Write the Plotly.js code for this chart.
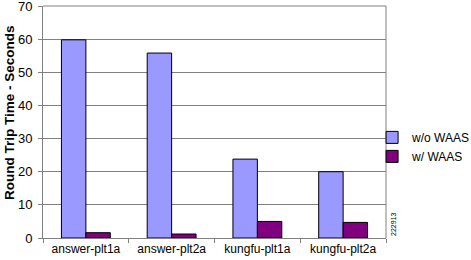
<!DOCTYPE html>
<html><head><meta charset="utf-8">
<script src="https://cdn.plot.ly/plotly-3.0.1.min.js"></script>
<style>html,body{margin:0;padding:0;background:#fff}#c{width:471px;height:260px}</style>
</head><body><div id="c"></div>
<script>
const categories = ["answer-plt1a", "answer-plt2a", "kungfu-plt1a", "kungfu-plt2a"];
const withoutWaas = [59.8, 55.8, 23.8, 20.0];
const withWaas = [1.6, 1.2, 5.0, 4.7];
const seriesNames = ["w/o WAAS", "w/ WAAS"];
const yTicks = [0, 10, 20, 30, 40, 50, 60, 70];

const font = {family: "Liberation Sans, Arial, sans-serif", size: 12, color: "#000"};
const data = [
  {type: "bar", x: categories, y: withoutWaas, name: seriesNames[0],
   marker: {color: "#9999FF", line: {color: "#000000", width: 1}}},
  {type: "bar", x: categories, y: withWaas, name: seriesNames[1],
   marker: {color: "#800080", line: {color: "#000000", width: 1}}}
];
const layout = {
  width: 471, height: 260,
  margin: {l: 43, r: 85, t: 6, b: 22, pad: 0, autoexpand: false},
  paper_bgcolor: "#fff", plot_bgcolor: "#fff",
  font: font,
  barmode: "group", bargap: 0.43, bargroupgap: 0,
  showlegend: true,
  legend: {xref: "container", yref: "container", x: 0.79, y: 0.435, xanchor: "left", yanchor: "middle",
           font: {family: font.family, size: 12}, itemwidth: 30, tracegroupgap: 0,
           bgcolor: "rgba(0,0,0,0)"},
  xaxis: {type: "category", tickson: "boundaries", ticks: "outside", ticklen: 4, tickangle: 0,
          tickcolor: "#808080", showline: true, linecolor: "#808080", linewidth: 1,
          mirror: false, showgrid: false, tickfont: {size: 12}, automargin: false},
  yaxis: {range: [0, 70], tickvals: yTicks, ticks: "outside", ticklen: 4,
          tickcolor: "#808080", showline: true, linecolor: "#808080", linewidth: 1,
          gridcolor: "#808080", gridwidth: 1, zeroline: false, automargin: false,
          tickfont: {size: 13}, ticklabelstandoff: 3, ticklabeloverflow: "allow"},
  shapes: [
    {type: "line", xref: "paper", yref: "paper", x0: 0, x1: 1, y0: 1, y1: 1, line: {color: "#808080", width: 1}},
    {type: "line", xref: "paper", yref: "paper", x0: 1, x1: 1, y0: 0, y1: 1, line: {color: "#808080", width: 1}}
  ],
  annotations: [
    {text: "<b>Round Trip Time - Seconds</b>", xref: "paper", yref: "paper", x: -0.096, y: 0.539,
     textangle: -90, showarrow: false, font: {size: 13.5, family: font.family},
     xanchor: "center", yanchor: "middle"},
    {text: "222913", xref: "paper", yref: "paper", x: 1.02, y: 0.06, textangle: -90,
     showarrow: false, font: {size: 7, family: font.family}, xanchor: "center", yanchor: "middle"}
  ]
};
Plotly.newPlot("c", data, layout, {displayModeBar: false, staticPlot: true});
</script></body></html>
